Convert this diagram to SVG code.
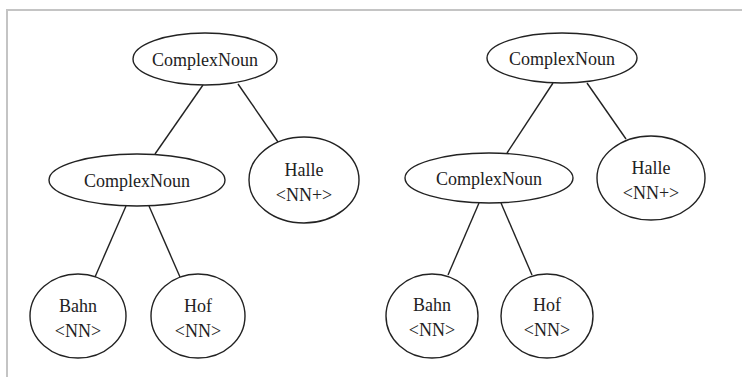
<svg xmlns="http://www.w3.org/2000/svg" width="742" height="377" viewBox="0 0 742 377">
  <style>
    .node { fill: #ffffff; stroke: #222222; stroke-width: 1.4; }
    .edge { stroke: #222222; stroke-width: 1.4; fill: none; }
    .label { font-family: "Liberation Serif", "Times New Roman", serif; font-size: 18px; fill: #222222; text-anchor: middle; }
    .frame { stroke: #c4c4c4; stroke-width: 2; fill: none; }
  </style>
  <rect x="0" y="0" width="742" height="377" fill="#ffffff"/>
  <path class="frame" d="M7,377 V10 H742"/>

  <g id="connectors">
    <!-- left tree -->
    <line class="edge" x1="203" y1="85" x2="155" y2="154"/>
    <line class="edge" x1="238" y1="84" x2="278" y2="142"/>
    <line class="edge" x1="126" y1="206" x2="95" y2="277"/>
    <line class="edge" x1="149" y1="206" x2="180" y2="277"/>
    <!-- right tree -->
    <line class="edge" x1="553" y1="83" x2="507" y2="153"/>
    <line class="edge" x1="587" y1="83" x2="626" y2="139"/>
    <line class="edge" x1="479" y1="203" x2="448" y2="275"/>
    <line class="edge" x1="501" y1="203" x2="532" y2="275"/>
  </g>

  <!-- left tree: (Bahn Hof) Halle -->
  <g id="l-root">
    <ellipse class="node" cx="205" cy="59" rx="72" ry="26"/>
    <text class="label" x="205" y="66">ComplexNoun</text>
  </g>
  <g id="l-inner">
    <ellipse class="node" cx="137" cy="180" rx="88" ry="26"/>
    <text class="label" x="137" y="187">ComplexNoun</text>
  </g>
  <g id="l-halle">
    <ellipse class="node" cx="304" cy="180" rx="55" ry="43"/>
    <text class="label" x="304" y="176">Halle</text>
    <text class="label" x="304" y="201">&lt;NN+&gt;</text>
  </g>
  <g id="l-bahn">
    <ellipse class="node" cx="78" cy="316" rx="48" ry="42"/>
    <text class="label" x="78" y="312">Bahn</text>
    <text class="label" x="78" y="337">&lt;NN&gt;</text>
  </g>
  <g id="l-hof">
    <ellipse class="node" cx="198" cy="316" rx="47" ry="42"/>
    <text class="label" x="198" y="312">Hof</text>
    <text class="label" x="198" y="337">&lt;NN&gt;</text>
  </g>

  <!-- right tree: (Bahn Hof) Halle -->
  <g id="r-root">
    <ellipse class="node" cx="562" cy="58" rx="75" ry="25"/>
    <text class="label" x="562" y="65">ComplexNoun</text>
  </g>
  <g id="r-inner">
    <ellipse class="node" cx="489" cy="178" rx="84" ry="25"/>
    <text class="label" x="489" y="185">ComplexNoun</text>
  </g>
  <g id="r-halle">
    <ellipse class="node" cx="651" cy="178" rx="54" ry="42"/>
    <text class="label" x="651" y="174">Halle</text>
    <text class="label" x="651" y="199">&lt;NN+&gt;</text>
  </g>
  <g id="r-bahn">
    <ellipse class="node" cx="432" cy="316" rx="46" ry="42"/>
    <text class="label" x="432" y="311">Bahn</text>
    <text class="label" x="432" y="336">&lt;NN&gt;</text>
  </g>
  <g id="r-hof">
    <ellipse class="node" cx="547" cy="316" rx="46" ry="42"/>
    <text class="label" x="547" y="311">Hof</text>
    <text class="label" x="547" y="336">&lt;NN&gt;</text>
  </g>
</svg>
